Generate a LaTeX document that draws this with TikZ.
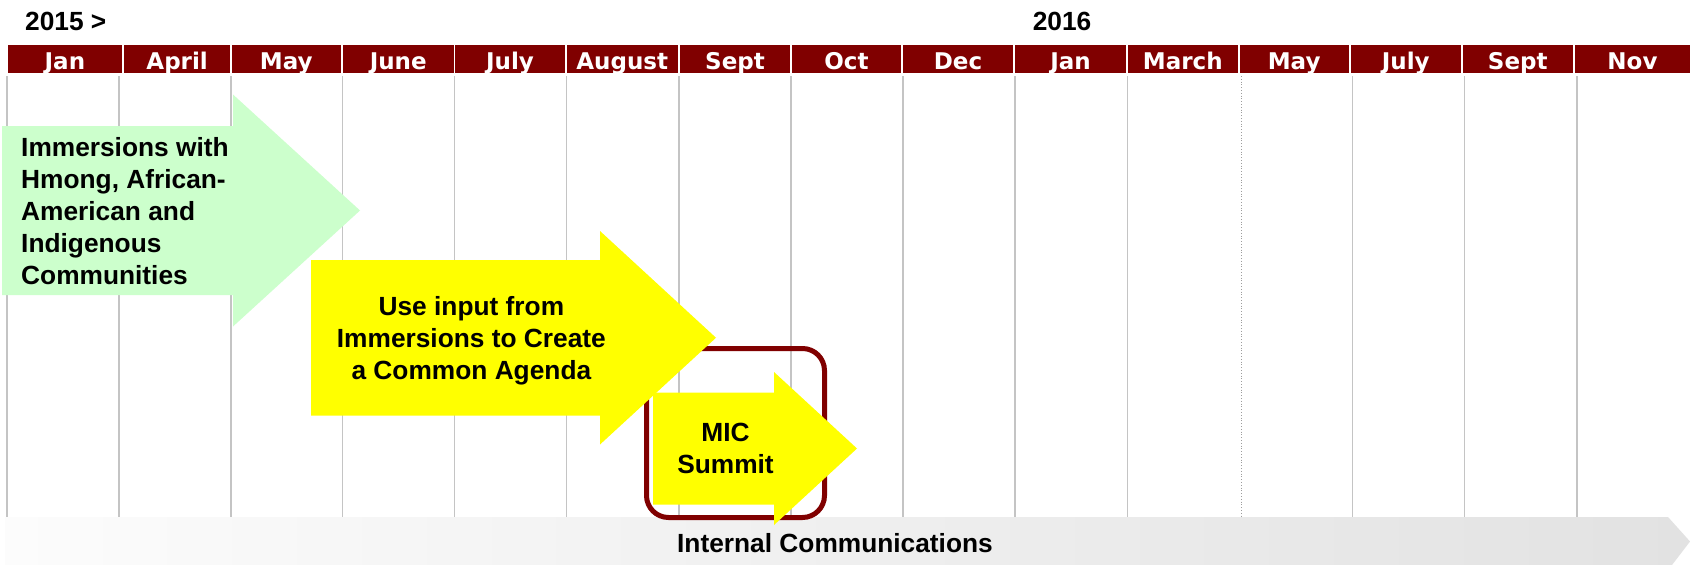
\documentclass[tikz,border=0pt]{standalone}
\usepackage{fontspec}
\setmainfont{Liberation Sans}
\newfontfamily\monthfont{DejaVu Sans}
\definecolor{maroon}{HTML}{800000}
\definecolor{mintgreen}{HTML}{CCFFCC}
\definecolor{brightyellow}{HTML}{FFFF00}
\definecolor{gridgray}{HTML}{C4C4C4}
\definecolor{bandleft}{HTML}{FCFCFC}
\definecolor{bandright}{HTML}{E2E2E2}
% fixes the height of a first text line, so that a node's top edge sits 20pt above its first baseline
\newcommand{\firstline}{\rule{0pt}{20pt}}
\begin{document}
\begin{tikzpicture}[x=1pt,y=-1pt,
  monthlabel/.style={anchor=base,inner sep=0pt,text=white,font=\monthfont\bfseries\fontsize{23}{26}\selectfont},
  yearlabel/.style={anchor=base,inner sep=0pt,font=\bfseries\fontsize{26.3}{30}\selectfont},
  gridline/.style={draw=gridgray,line width=1.4pt},
  phasetext/.style={inner sep=0pt,font=\bfseries\fontsize{26.3}{32}\selectfont},
  greenphase/.style={fill=mintgreen},
  yellowphase/.style={fill=brightyellow}]
\useasboundingbox (0,0) rectangle (1690,565);
\fill[white] (0,0) rectangle (1690,565);

% year headings
\node[yearlabel,anchor=base west] (y2015) at (25,30.7) {2015 >};
\node[yearlabel] (y2016) at (1062,30.7) {2016};

% month header cells
\foreach \l/\r/\m [count=\i] in {7.5/122.3/Jan,124.3/230/April,232/340.6/May,343/453.5/June,455/565/July,567/677.5/August,680/790/Sept,792/901/Oct,903/1013/Dec,1015/1126/Jan,1128/1237.5/March,1239.6/1348.7/May,1351/1460.5/July,1463/1572.5/Sept,1575/1690/Nov}{
  \fill[maroon] (\l,44.5) rectangle (\r,73.3);
  \node[monthlabel] (m\i) at ({(\l+\r)/2},69) {\m};
}

% column rules
\foreach \x in {7,119,231,342.5,454.5,566.5,679,791,903,1015,1127.5,1352.5,1464.5,1577}{
  \draw[gridline] (\x,76) -- (\x,517);
}
\draw[draw=gridgray!80!black,line width=0.8pt,dotted] (1241,76) -- (1241,517);

% internal communications band
\shade[left color=bandleft,right color=bandright]
  (5,517) -- (1668,517) -- (1690,541.5) -- (1672,565) -- (5,565) -- cycle;
\node[phasetext,anchor=base] (internal) at (835,552.5) {Internal Communications};

% summit frame
\draw[maroon,line width=5pt,rounded corners=22pt] (646.5,348.5) rectangle (824.5,517.5);

% phase arrows
\fill[greenphase] (2,126) -- (233,126) -- (233,94.5) -- (360,210.5) -- (233,326.5) -- (233,295) -- (2,295) -- cycle;
\fill[yellowphase] (311,260) -- (600,260) -- (600,231) -- (716,337.75) -- (600,444.5) -- (600,415.5) -- (311,415.5) -- cycle;
\fill[yellowphase] (653,392.5) -- (774,392.5) -- (774,372) -- (857,448.5) -- (774,525) -- (774,504.5) -- (653,504.5) -- cycle;

% phase texts
\node[phasetext,anchor=north west,align=left] (immersions) at (21,136)
  {\firstline Immersions with\\Hmong, African-\\American and\\Indigenous\\Communities};
\node[phasetext,anchor=north,align=center] (agenda) at (471.4,295)
  {\firstline Use input from\\Immersions to Create\\a Common Agenda};
\node[phasetext,anchor=north,align=center] (summit) at (725.5,421.7)
  {\firstline MIC\\Summit};
\end{tikzpicture}
\end{document}
